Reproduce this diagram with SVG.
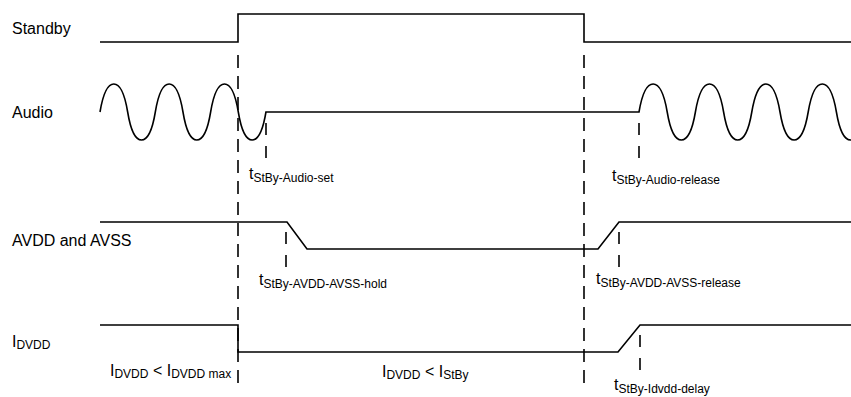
<svg xmlns="http://www.w3.org/2000/svg" width="851" height="397" viewBox="0 0 851 397">
<style>
.sig{fill:none;stroke:#000;stroke-width:1.6;stroke-linejoin:miter}
.dash{fill:none;stroke:#000;stroke-width:1.6;stroke-dasharray:13,8}
.sdash{fill:none;stroke:#000;stroke-width:1.6;stroke-dasharray:12,11}
text{font-family:"Liberation Sans",Arial,sans-serif;fill:#000}
.lbl{font-size:16px}
.sub{font-size:12px}
</style>
<rect width="851" height="397" fill="#fff"/>
<g id="standby">
<text class="lbl" x="12" y="34">Standby</text>
<path class="sig" d="M100,42 H238 V14 H584 V42 H851"/>
</g>
<g id="audio">
<text class="lbl" x="12" y="118">Audio</text>
<path class="sig" d="M100,112
c2.77,-16.8 6.92,-28 13.83,-28 c6.91,0 11.06,11.2 13.83,28 c2.77,16.8 6.92,28 13.83,28 c6.91,0 11.06,-11.2 13.83,-28
c2.77,-16.8 6.92,-28 13.83,-28 c6.91,0 11.06,11.2 13.83,28 c2.77,16.8 6.92,28 13.83,28 c6.91,0 11.06,-11.2 13.83,-28
c2.77,-16.8 6.92,-28 13.83,-28 c6.91,0 11.06,11.2 13.83,28 c2.77,16.8 6.92,28 13.83,28 c6.91,0 11.06,-11.2 13.83,-28
L639,112
c2.82,-16.8 7.05,-28 14.1,-28 c7.05,0 11.28,11.2 14.1,28 c2.82,16.8 7.05,28 14.1,28 c7.05,0 11.28,-11.2 14.1,-28
c2.82,-16.8 7.05,-28 14.1,-28 c7.05,0 11.28,11.2 14.1,28 c2.82,16.8 7.05,28 14.1,28 c7.05,0 11.28,-11.2 14.1,-28
c2.82,-16.8 7.05,-28 14.1,-28 c7.05,0 11.28,11.2 14.1,28 c2.82,16.8 7.05,28 14.1,28 c7.05,0 11.28,-11.2 14.1,-28
c2.82,-16.8 7.05,-28 14.1,-28 c7.05,0 11.28,11.2 14.1,28 c2.82,16.8 7.05,28 14.1,28 c7.05,0 11.28,-11.2 14.1,-28"/>
</g>
<g id="avdd">
<text class="lbl" x="12" y="246">AVDD and AVSS</text>
<path class="sig" d="M100,222 H287 L307,249 H598 L619,222 H851"/>
</g>
<g id="idvdd">
<text class="lbl" x="12" y="347">I<tspan class="sub" dy="2">DVDD</tspan></text>
<path class="sig" d="M100,325 H238 V352 H618 L640,325 H851"/>
</g>
<g id="connectors">
<line class="dash" x1="238" y1="55" x2="238" y2="387"/>
<line class="dash" x1="584" y1="55" x2="584" y2="387"/>
<line class="sdash" x1="266" y1="123" x2="266" y2="160"/>
<line class="sdash" x1="639" y1="123" x2="639" y2="160"/>
<line class="sdash" x1="286" y1="232" x2="286" y2="267"/>
<line class="sdash" x1="619" y1="232" x2="619" y2="267"/>
<line class="sdash" x1="640" y1="335" x2="640" y2="370"/>
</g>
<g id="labels">
<text class="lbl" x="249" y="179">t<tspan class="sub" dy="3">StBy-Audio-set</tspan></text>
<text class="lbl" x="612" y="181">t<tspan class="sub" dy="3">StBy-Audio-release</tspan></text>
<text class="lbl" x="259" y="285">t<tspan class="sub" dy="3">StBy-AVDD-AVSS-hold</tspan></text>
<text class="lbl" x="596" y="284">t<tspan class="sub" dy="3">StBy-AVDD-AVSS-release</tspan></text>
<text class="lbl" x="614" y="390">t<tspan class="sub" dy="3">StBy-Idvdd-delay</tspan></text>
<text class="lbl" x="110" y="376">I<tspan class="sub" dy="2">DVDD</tspan><tspan dy="-2"> &lt; I</tspan><tspan class="sub" dy="2">DVDD max</tspan></text>
<text class="lbl" x="382" y="377">I<tspan class="sub" dy="2">DVDD</tspan><tspan dy="-2"> &lt; I</tspan><tspan class="sub" dy="2">StBy</tspan></text>
</g>
</svg>
